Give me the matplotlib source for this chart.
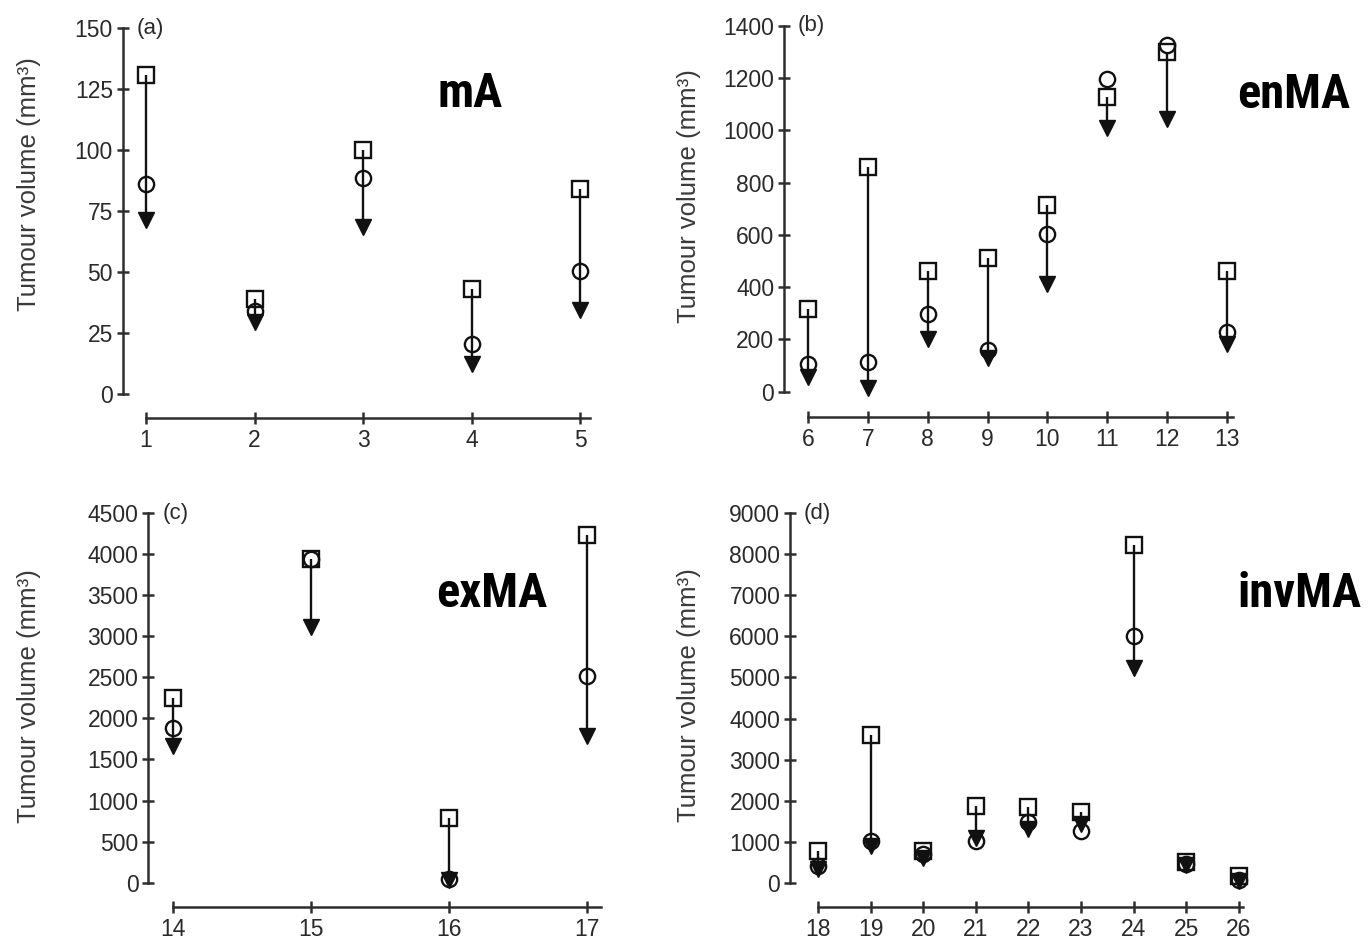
import matplotlib
matplotlib.use("Agg")
import matplotlib.pyplot as plt
from matplotlib import font_manager as fm

plt.rcParams['font.family'] = ['Liberation Sans', 'DejaVu Sans']

# ---- data: start (square), intermediate (circle) and final (arrow head) volumes ----
subjects_a = [1, 2, 3, 4, 5]
start_a = [131, 39, 100, 43, 84]
mid_a = [86, 34, 88.5, 20.5, 50.5]
final_a = [71.5, 29.5, 68.5, 12.5, 34.5]

subjects_b = [6, 7, 8, 9, 10, 11, 12, 13]
start_b = [318, 860, 462, 513, 716, 1128, 1300, 460]
mid_b = [105, 114, 298, 158, 602, 1195, 1325, 228]
final_b = [57, 13, 203, 130, 412, 1007, 1045, 184]

subjects_c = [14, 15, 16, 17]
start_c = [2250, 3945, 790, 4234]
mid_c = [1880, 3940, 50, 2516]
final_c = [1660, 3110, 30, 1780]

subjects_d = [18, 19, 20, 21, 22, 23, 24, 25, 26]
start_d = [780, 3600, 777, 1882, 1841, 1718, 8210, 500, 164]
mid_d = [409, 1023, 695, 1023, 1473, 1268, 6010, 470, 82]
final_d = [330, 900, 614, 1105, 1309, 1432, 5220, 430, 40]

panel_letters = ['(a)', '(b)', '(c)', '(d)']
group_names = ['mA', 'enMA', 'exMA', 'invMA']
ylabel_text = 'Tumour volume (mm³)'


def _weight_of(entry):
    w = entry.weight
    if isinstance(w, str):
        return fm.weight_dict.get(w, 400)
    return w


def condensed_bold_font():
    """Pick a narrow/condensed bold face for the group names if one is installed."""
    preferred = ['liberation sans narrow', 'roboto condensed', 'dejavu sans condensed',
                 'open sans condensed', 'noto sans condensed']
    found = []
    for f in fm.fontManager.ttflist:
        key = (f.name + ' ' + f.fname).lower()
        if ('narrow' in key or 'condensed' in key) and _weight_of(f) >= 600 \
                and f.style == 'normal':
            rank = len(preferred)
            for i, p in enumerate(preferred):
                if p in key or p.replace(' ', '') in key:
                    rank = i
                    break
            found.append((rank, f.fname))
    if found:
        found.sort()
        return fm.FontProperties(fname=found[0][1], size=35), True
    return fm.FontProperties(family='Liberation Sans', weight='bold', size=31), False


name_font, _ = condensed_bold_font()

W, H = 1370, 940
fig = plt.figure(figsize=(W / 100, H / 100), dpi=100)

AX_COL = '#2e2e2e'
MARK_COL = '#111111'

# layout in pixels: yaxis x, top tick y, zero y, x-axis line y, first tick x, px per unit, right edge
layouts = [
    dict(L=122.7, T=28.3, Z=394.0, B=418.3, X0=146.0, PPU=108.5, R=605, ext=0.09, step=25,
         lab=(29, 184), name=(437, 107)),
    dict(L=784.0, T=25.7, Z=391.7, B=416.7, X0=808.0, PPU=59.86, R=1265, ext=0.10, step=200,
         lab=(689, 196), name=(1237, 108)),
    dict(L=148.3, T=513.0, Z=882.7, B=906.7, X0=172.7, PPU=138.1, R=615, ext=0.10, step=500,
         lab=(29, 696), name=(436, 607)),
    dict(L=790.0, T=513.0, Z=883.0, B=906.7, X0=818.0, PPU=52.6, R=1265, ext=0.08, step=1000,
         lab=(689, 695), name=(1237, 607)),
]
tops = [150, 1400, 4500, 9000]
datasets = [
    (subjects_a, start_a, mid_a, final_a),
    (subjects_b, start_b, mid_b, final_b),
    (subjects_c, start_c, mid_c, final_c),
    (subjects_d, start_d, mid_d, final_d),
]

for k, (lay, top, data) in enumerate(zip(layouts, tops, datasets)):
    subj, s0, s1, s2 = data
    L, T, Z, B = lay['L'], lay['T'], lay['Z'], lay['B']
    R = lay['R']
    ax = fig.add_axes([L / W, 1 - B / H, (R - L) / W, (B - T) / H])
    ppy = (Z - T) / top
    first, last = subj[0], subj[-1]
    ax.set_xlim(first - (lay['X0'] - L) / lay['PPU'], first + (R - lay['X0']) / lay['PPU'])
    ax.set_ylim(-(B - Z) / ppy, top)

    # vertical change lines from start to final volume
    ax.vlines(subj, s2, s0, color=MARK_COL, lw=1.7, zorder=2)
    ax.plot(subj, s0, ls='none', marker='s', ms=11, mfc='none', mec=MARK_COL, mew=1.7,
            clip_on=False, zorder=3)
    ax.plot(subj, s1, ls='none', marker='o', ms=11, mfc='none', mec=MARK_COL, mew=1.7,
            clip_on=False, zorder=3)
    ax.plot(subj, s2, ls='none', marker='v', ms=11.5, mfc=MARK_COL, mec=MARK_COL, mew=1,
            clip_on=False, zorder=4)

    for side in ['top', 'right']:
        ax.spines[side].set_visible(False)
    for side in ['left', 'bottom']:
        ax.spines[side].set_linewidth(1.8)
        ax.spines[side].set_color(AX_COL)
    ax.spines['left'].set_bounds(0, top)
    ax.spines['bottom'].set_bounds(first, last + lay['ext'])

    ax.set_xticks(subj)
    ax.set_yticks(range(0, top + 1, lay['step']))
    ax.tick_params(axis='both', direction='inout', length=8, width=1.8, color=AX_COL,
                   labelsize=16.5, labelcolor='#2a2a2a')
    ax.tick_params(axis='x', pad=4)
    ax.tick_params(axis='y', pad=3)

    ax.set_ylabel(ylabel_text, fontsize=18.5, color='#3a3a3a', va='center')
    ax.yaxis.set_label_coords(lay['lab'][0] / W, 1 - lay['lab'][1] / H, transform=fig.transFigure)

    ax.annotate(panel_letters[k], xy=(0, 1), xycoords='axes fraction', xytext=(10, 0),
                textcoords='offset points', ha='left', va='center', fontsize=16,
                color='#2a2a2a')

    fig.text(lay['name'][0] / W, 1 - lay['name'][1] / H, group_names[k],
             fontproperties=name_font, color='black', ha='left', va='baseline')

fig.savefig('out.png', dpi=100)
